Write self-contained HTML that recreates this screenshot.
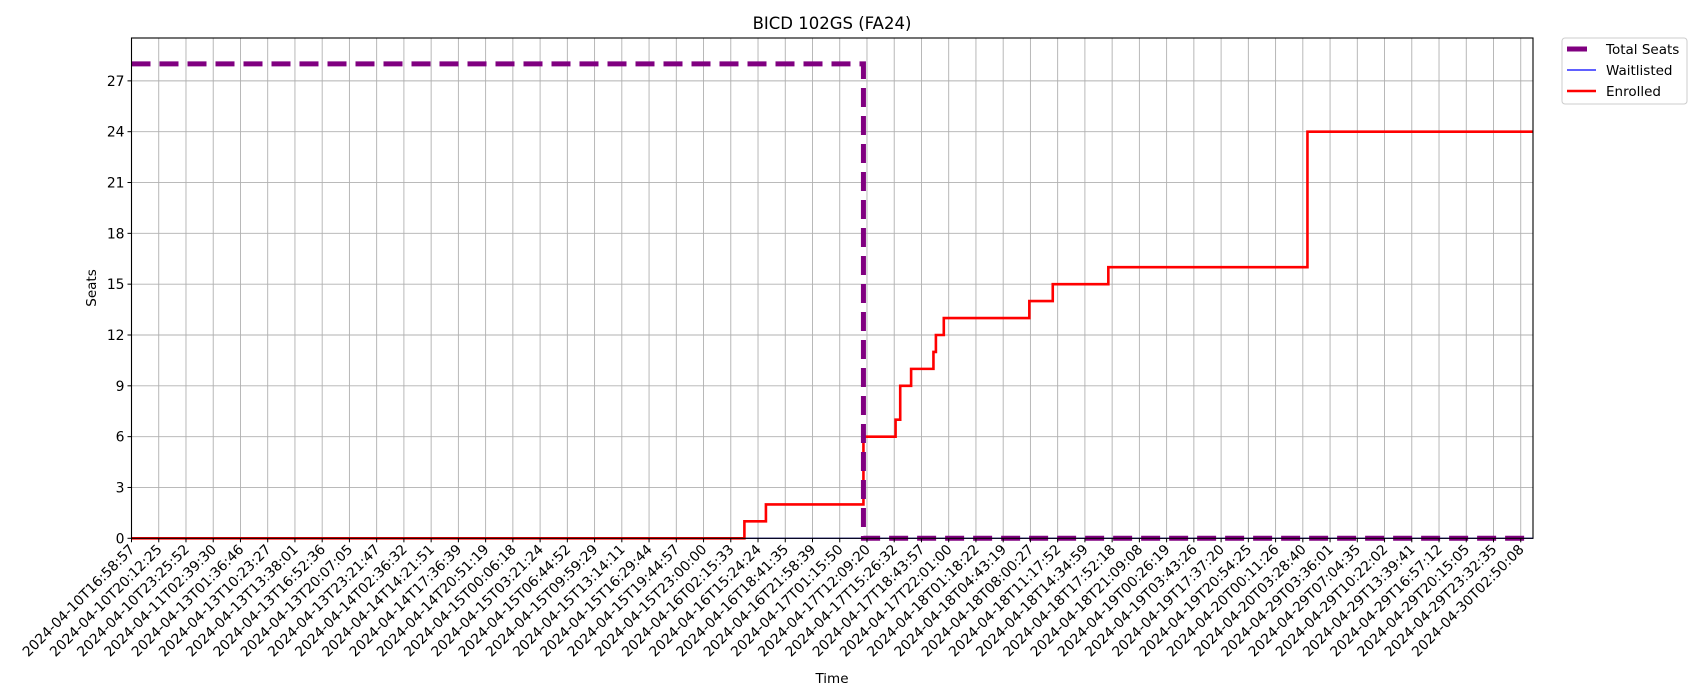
<!DOCTYPE html>
<html><head><meta charset="utf-8"><style>
html,body{margin:0;padding:0;background:#fff;}
svg{display:block;font-family:"DejaVu Sans","Liberation Sans",sans-serif;}
</style></head><body>
<svg id="chart" width="1700" height="700" viewBox="0 0 1700 700">
<text x="832" y="29" text-anchor="middle" font-size="16.5" fill="#000">BICD 102GS (FA24)</text>
<g id="grid"></g>
<g id="series"></g>
<g id="axes"></g>
<text x="96" y="288" text-anchor="middle" font-size="13.5" transform="rotate(-90 96 288)">Seats</text>
<text x="832" y="683" text-anchor="middle" font-size="13.5">Time</text>
<g>
<rect x="1562" y="38" width="125" height="66" rx="3" fill="#fff" stroke="#ccc"/>
<line x1="1567" y1="49" x2="1587" y2="49" stroke="#800080" stroke-width="5"/>
<text x="1606" y="54" font-size="13.5">Total Seats</text>
<line x1="1567" y1="70" x2="1596" y2="70" stroke="#0000ff" stroke-width="1.2"/>
<text x="1606" y="75" font-size="13.5">Waitlisted</text>
<line x1="1567" y1="91" x2="1596" y2="91" stroke="#ff0000" stroke-width="2.5"/>
<text x="1606" y="96" font-size="13.5">Enrolled</text>
</g>
</svg>
<script>
const tickLabels=["2024-04-10T16:58:57","2024-04-10T20:12:25","2024-04-10T23:25:52","2024-04-11T02:39:30","2024-04-13T01:36:46","2024-04-13T10:23:27","2024-04-13T13:38:01","2024-04-13T16:52:36","2024-04-13T20:07:05","2024-04-13T23:21:47","2024-04-14T02:36:32","2024-04-14T14:21:51","2024-04-14T17:36:39","2024-04-14T20:51:19","2024-04-15T00:06:18","2024-04-15T03:21:24","2024-04-15T06:44:52","2024-04-15T09:59:29","2024-04-15T13:14:11","2024-04-15T16:29:44","2024-04-15T19:44:57","2024-04-15T23:00:00","2024-04-16T02:15:33","2024-04-16T15:24:24","2024-04-16T18:41:35","2024-04-16T21:58:39","2024-04-17T01:15:50","2024-04-17T12:09:20","2024-04-17T15:26:32","2024-04-17T18:43:57","2024-04-17T22:01:00","2024-04-18T01:18:22","2024-04-18T04:43:19","2024-04-18T08:00:27","2024-04-18T11:17:52","2024-04-18T14:34:59","2024-04-18T17:52:18","2024-04-18T21:09:08","2024-04-19T00:26:19","2024-04-19T03:43:26","2024-04-19T17:37:20","2024-04-19T20:54:25","2024-04-20T00:11:26","2024-04-20T03:28:40","2024-04-29T03:36:01","2024-04-29T07:04:35","2024-04-29T10:22:02","2024-04-29T13:39:41","2024-04-29T16:57:12","2024-04-29T20:15:05","2024-04-29T23:32:35","2024-04-30T02:50:08"];
const yTicks=[0,3,6,9,12,15,18,21,24,27];
const totalX=[0,26.87,51.45];
const totalY=[28,0,0];
const waitX=[0,51.45];
const waitY=[0,0];
const enrolledX=[0,22.50,23.29,26.87,28.05,28.22,28.62,29.44,29.53,29.82,32.96,33.82,35.86,43.17,51.45];
const enrolledY=[0,1,2,6,7,9,10,11,12,13,14,15,16,24,24];

const L=131.5,R=1533,T=38,B=538.3,XMAX=51.45,YMAX=29.53;
const sx=v=>L+v/XMAX*(R-L);
const sy=v=>B-v/YMAX*(B-T);
const NS="http://www.w3.org/2000/svg";
function mk(tag,parent){const e=document.createElementNS(NS,tag);parent.appendChild(e);return e;}
const grid=document.getElementById('grid'),axes=document.getElementById('axes'),series=document.getElementById('series');
tickLabels.forEach((lab,i)=>{
  const x=sx(i);
  const g=mk('line',grid);g.setAttribute('x1',x);g.setAttribute('x2',x);g.setAttribute('y1',T);g.setAttribute('y2',B);g.setAttribute('stroke','#b0b0b0');g.setAttribute('stroke-width','0.9');
  
  
  const t=mk('line',axes);t.setAttribute('x1',x);t.setAttribute('x2',x);t.setAttribute('y1',B);t.setAttribute('y2',B+4);t.setAttribute('stroke','#000');
  
  
  const tx=mk('text',axes);tx.textContent=lab;tx.setAttribute('font-size','13.9');tx.setAttribute('text-anchor','end');
  tx.setAttribute('transform',`translate(${x+4},${B+12}) rotate(-45)`);
  
  
});
yTicks.forEach(v=>{
  const y=sy(v);
  const g=mk('line',grid);g.setAttribute('x1',L);g.setAttribute('x2',R);g.setAttribute('y1',y);g.setAttribute('y2',y);g.setAttribute('stroke','#b0b0b0');g.setAttribute('stroke-width','0.9');
  
  
  const t=mk('line',axes);t.setAttribute('x1',L-4);t.setAttribute('x2',L);t.setAttribute('y1',y);t.setAttribute('y2',y);t.setAttribute('stroke','#000');
  
  
  const tx=mk('text',axes);tx.textContent=v;tx.setAttribute('font-size','13.9');tx.setAttribute('text-anchor','end');tx.setAttribute('x',L-7);tx.setAttribute('y',y+5);
  
  
});
const frame=mk('rect',axes);frame.setAttribute('x',L);frame.setAttribute('y',T);frame.setAttribute('width',R-L);frame.setAttribute('height',B-T);frame.setAttribute('fill','none');frame.setAttribute('stroke','#000');frame.setAttribute('stroke-width','1.1');


function stepPath(xs,ys){let d=`M${sx(xs[0])},${sy(ys[0])}`;for(let i=1;i<xs.length;i++){d+=` H${sx(xs[i])} V${sy(ys[i])}`;}return d;}
function linePath(xs,ys){return xs.map((x,i)=>(i?'L':'M')+sx(x)+','+sy(ys[i])).join(' ');}
const pw=mk('path',series);pw.setAttribute('d',linePath(waitX,waitY));pw.setAttribute('fill','none');pw.setAttribute('stroke','#0000ff');pw.setAttribute('stroke-width','1.2');


const pe=mk('path',series);pe.setAttribute('d',stepPath(enrolledX,enrolledY));pe.setAttribute('fill','none');pe.setAttribute('stroke','#ff0000');pe.setAttribute('stroke-width','2.6');


const pt=mk('path',series);pt.setAttribute('d',stepPath(totalX,totalY));pt.setAttribute('fill','none');pt.setAttribute('stroke','#800080');pt.setAttribute('stroke-width','5');pt.setAttribute('stroke-dasharray','19 9');


</script>
</body></html>
